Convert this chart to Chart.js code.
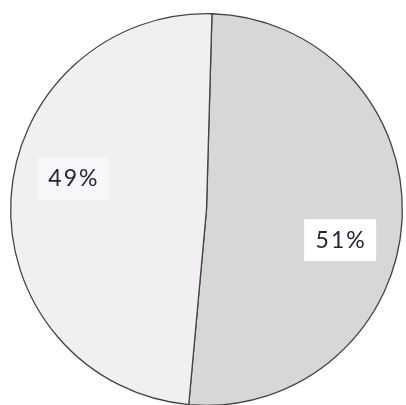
<!DOCTYPE html>
<html lang="en">
<head>
    <meta charset="UTF-8">
    <title>Pie chart 51% / 49%</title>
    <script src="https://cdn.jsdelivr.net/npm/chart.js"></script>
    <style>
        html, body {
            margin: 0;
            padding: 0;
            background: #ffffff;
            overflow: hidden;
        }
        .chart-container {
            width: 406px;
            height: 420px;
        }
    </style>
</head>
<body>
    <div class="chart-container">
        <canvas id="pieChart"></canvas>
    </div>

    <script>
        // Data
        const categories = ['A', 'B'];
        const shares = [51, 49];
        const sliceColors = ['#d7d7d7', '#f2eff3'];

        // Draws "nn%" labels in a white box inside each slice
        const percentLabels = {
            id: 'percentLabels',
            afterDatasetsDraw(chart) {
                const ctx = chart.ctx;
                const meta = chart.getDatasetMeta(0);
                const values = chart.data.datasets[0].data;
                const total = values.reduce((a, b) => a + b, 0);
                ctx.save();
                ctx.font = '23px Lato, "Open Sans", sans-serif';
                ctx.letterSpacing = '2px';
                ctx.textAlign = 'center';
                ctx.textBaseline = 'middle';
                meta.data.forEach((arc, i) => {
                    const p = arc.getProps(['x', 'y', 'startAngle', 'endAngle', 'outerRadius'], true);
                    const mid = (p.startAngle + p.endAngle) / 2 + 9.5 * Math.PI / 180;
                    const r = p.outerRadius * 0.70;
                    const x = p.x + Math.cos(mid) * r;
                    const y = p.y + Math.sin(mid) * r;
                    const text = Math.round(values[i] / total * 100) + '%';
                    ctx.fillStyle = i === 0 ? '#ffffff' : '#f8f6f9';
                    ctx.fillRect(x - 36, y - 21, 72, 42);
                    ctx.fillStyle = '#25262e';
                    ctx.fillText(text, x + 1, y);
                });
                ctx.restore();
            }
        };

        new Chart(document.getElementById('pieChart'), {
            type: 'pie',
            data: {
                labels: categories,
                datasets: [{
                    data: shares,
                    backgroundColor: sliceColors,
                    borderColor: '#444444',
                    borderWidth: 1.3
                }]
            },
            options: {
                responsive: true,
                maintainAspectRatio: false,
                animation: false,
                rotation: 1.6,
                layout: {
                    padding: { left: 10, right: 3, top: 13, bottom: 14 }
                },
                plugins: {
                    legend: { display: false },
                    tooltip: { enabled: false }
                }
            },
            plugins: [percentLabels]
        });
    </script>
</body>
</html>
